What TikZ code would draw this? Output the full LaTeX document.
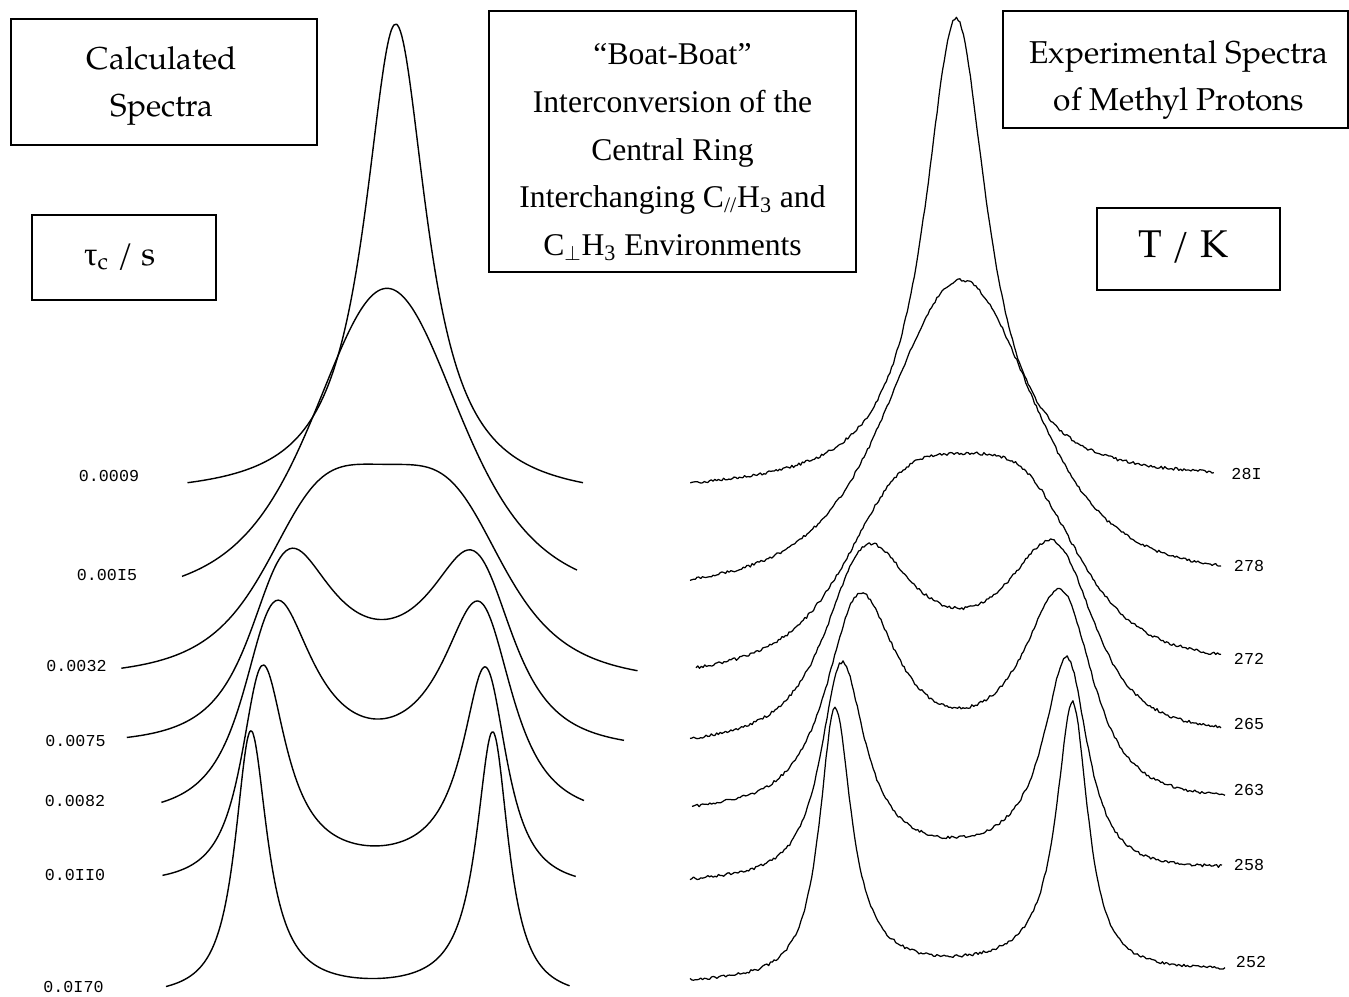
\documentclass[tikz,border=0pt]{standalone}
\usepackage{fontspec}
\setmainfont{TeX Gyre Pagella}
\newfontfamily\timesfont{Liberation Serif}
\newfontfamily\monofont{Liberation Mono}

\begin{document}
\begin{tikzpicture}[x=0.02cm,y=-0.02cm,
  box/.style={draw,line width=1pt,inner sep=0pt},
  boxtext/.style={align=center,inner sep=0pt},
  calc/.style={line width=0.8pt,line join=round},
  expt/.style={line width=0.7pt,line join=round},
  tick/.style={font=\monofont\fontsize{9.5}{11}\selectfont,inner sep=0pt},
  declare function={
    exD(\uu,\kk,\rr)=\rr*\rr+2*\rr*\kk+1-\uu*\uu;
    exE(\uu,\kk,\rr)=2*(\rr+\kk)*\uu;
    exI(\uu,\kk,\rr)=((\rr+2*\kk)*exD(\uu,\kk,\rr)+\uu*exE(\uu,\kk,\rr))/(exD(\uu,\kk,\rr)*exD(\uu,\kk,\rr)+exE(\uu,\kk,\rr)*exE(\uu,\kk,\rr));
  }]
\pgfmathsetseed{11}
\path[use as bounding box,fill=white] (0,0) rectangle (1349,997);

% title boxes
\node[box,minimum width=6.12cm,minimum height=2.52cm] (calcbox) at (164,82) {};
\node[boxtext,font=\fontsize{18}{26.6}\selectfont] (calctext) at (162,86) {Calculated\\Spectra};
\node[box,minimum width=3.68cm,minimum height=1.7cm] (taubox) at (124,257.5) {};
\node[boxtext,font=\fontsize{19}{22}\selectfont] (tautext) at (120,257) {{\timesfont τ}\textsubscript{c} / s};
\node[box,minimum width=7.34cm,minimum height=5.22cm] (boatbox) at (672.5,141.5) {};
\node[boxtext,font=\timesfont\fontsize{18}{27.2}\selectfont] (boattext) at (672.5,152)
  {“Boat-Boat”\\Interconversion of the\\Central Ring\\Interchanging C\textsubscript{//}H\textsubscript{3} and\\C\textsubscript{$\perp$}H\textsubscript{3} Environments};
\node[box,minimum width=6.9cm,minimum height=2.34cm] (expbox) at (1175.5,69.5) {};
\node[boxtext,font=\fontsize{18}{26.6}\selectfont] (exptext) at (1179,80) {Experimental Spectra\\of Methyl Protons};
\node[box,minimum width=3.66cm,minimum height=1.64cm] (tkbox) at (1188.5,249) {};
\node[boxtext,font=\fontsize{22}{26}\selectfont] (tktext) at (1183.5,247) {T / K};

% calculated spectra: ends, centre, half splitting, exchange rate, line width, height
\foreach \xl/\yl/\xr/\yr/\xc/\sep/\kex/\wid/\hgt in {
  187.5/481/583/484.4/395.7/118/2.04/0.06/458.8,
  182/573.2/577/573.2/387/118/0.95/0.06/284.9,
  121.4/667.3/637.5/671.6/385/116/0.68/0.06/204.5,
  126.8/736.6/624/741.2/381.3/112/0.42/0.05/189.8,
  161.4/800.6/584/802.3/377.7/114/0.33/0.05/200.8,
  162.5/874.1/575.7/877.7/374.1/115.5/0.185/0.05/210,
  166/985.3/569.6/987/371.8/122/0.08/0.08/254.9}{
  \pgfmathsetmacro\upk{sqrt(max(0,1-2*\kex*\kex))}
  \pgfmathsetmacro\Ipk{exI(\upk,\kex,\wid)}
  \pgfmathsetmacro\Iend{(exI((\xl-\xc)/\sep,\kex,\wid)+exI((\xr-\xc)/\sep,\kex,\wid))/2}
  \draw[calc] plot[domain=\xl:\xr,samples=160,smooth]
    (\x,{\yl+(\yr-\yl)*(\x-\xl)/(\xr-\xl)-\hgt*(exI((\x-\xc)/\sep,\kex,\wid)-\Iend)/(\Ipk-\Iend)});
}

% experimental spectra, same lineshape with noise
\foreach \xl/\yl/\xr/\yr/\xc/\sep/\kex/\wid/\hgt in {
  690.3/482.6/1213.8/472/956/118/2.04/0.06/458.9,
  690/578.5/1221/566/961/118/0.95/0.05/292,
  696/667/1221/655/962/116/0.7/0.05/207,
  690/738/1221/727.7/960.4/115/0.43/0.05/190.8,
  692/806/1225/795/960/113/0.33/0.05/209.6,
  690/878.7/1222/866/954.3/116.4/0.18/0.05/213,
  690/980/1225/967.5/953.8/120/0.09/0.07/269.1}{
  \pgfmathsetmacro\upk{sqrt(max(0,1-2*\kex*\kex))}
  \pgfmathsetmacro\Ipk{exI(\upk,\kex,\wid)}
  \pgfmathsetmacro\Iend{(exI((\xl-\xc)/\sep,\kex,\wid)+exI((\xr-\xc)/\sep,\kex,\wid))/2}
  \draw[expt] plot[domain=\xl:\xr,samples=300]
    (\x,{\yl+(\yr-\yl)*(\x-\xl)/(\xr-\xl)-\hgt*(exI((\x-\xc)/\sep,\kex,\wid)-\Iend)/(\Ipk-\Iend)+1.5*rand});
}

% tau_c values
\foreach \lx/\ly/\lab [count=\i] in {109/475.5/0.0009, 107/575/0.00I5, 76.5/666.3/0.0032,
  75.5/741.2/0.0075, 75/800.6/0.0082, 75/875.2/0.0II0, 73.5/987/0.0I70}
  \node[tick] (tau\i) at (\lx,\ly) {\lab};

% temperatures
\foreach \lx/\ly/\lab [count=\i] in {1246.5/473.7/28I, 1249/566/278, 1249/658.5/272,
  1249/724/265, 1249/790/263, 1249/864.5/258, 1251/962/252}
  \node[tick] (temp\i) at (\lx,\ly) {\lab};

\end{tikzpicture}
\end{document}
